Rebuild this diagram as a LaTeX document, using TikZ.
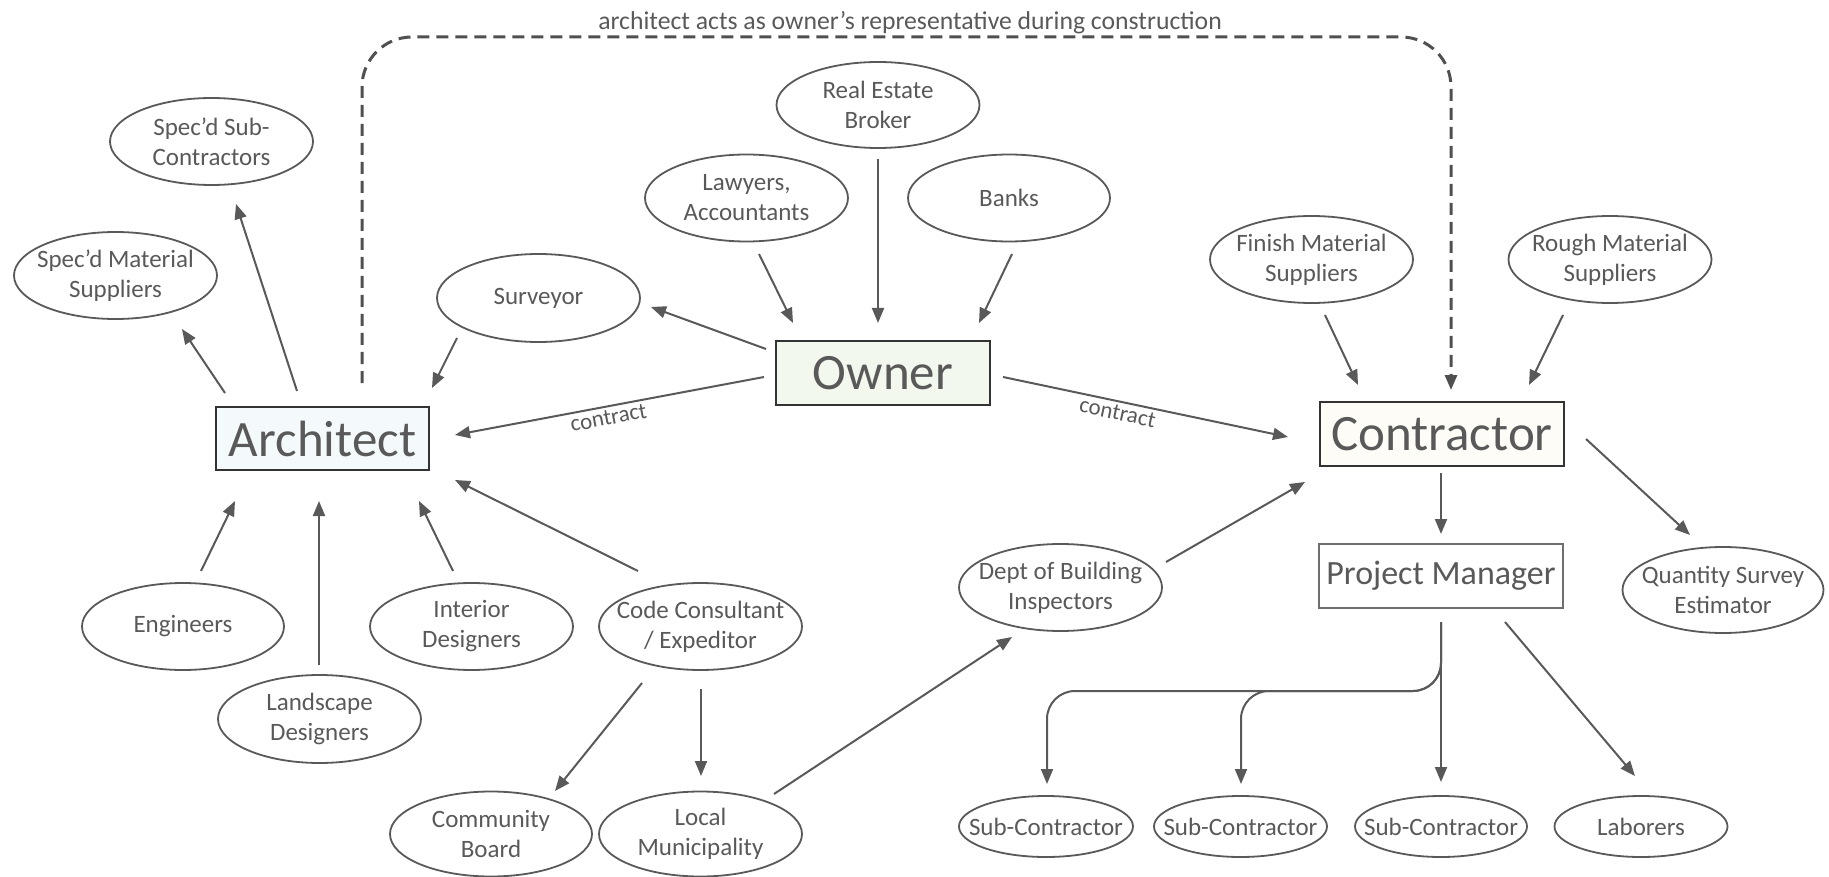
\documentclass[tikz,border=0pt]{standalone}
\usepackage{fontspec}
\setmainfont{Carlito}
\usetikzlibrary{shapes.geometric,arrows.meta,calc}
\definecolor{ink}{HTML}{595959}
\definecolor{dashink}{HTML}{505050}
\definecolor{boxline}{HTML}{333333}
\definecolor{pmline}{HTML}{6E6E6E}
\definecolor{ownerfill}{HTML}{F3F8EF}
\definecolor{archfill}{HTML}{F4F9FC}
\definecolor{contrfill}{HTML}{FDFCF7}
\tikzset{
  oval/.style={ellipse, draw=ink, line width=1.8pt, text=ink,
    inner xsep=-45pt, inner ysep=-10pt,
    minimum width=203pt, minimum height=87pt, align=center,
    font=\fontsize{25}{30}\selectfont},
  smalloval/.style={oval, minimum width=174pt, minimum height=61pt},
  bigbox/.style={rectangle, draw=boxline, line width=2.5pt, text=ink, inner sep=0pt,
    minimum width=213pt, minimum height=63pt, font=\fontsize{51}{60}\selectfont},
  pmbox/.style={rectangle, draw=pmline, line width=2pt, text=ink, inner sep=0pt,
    minimum width=244pt, minimum height=64pt, font=\fontsize{34}{40}\selectfont},
  arr/.style={draw=ink, line width=2pt, -{Triangle[length=15pt,width=12pt]}},
  dasharr/.style={arr, draw=dashink, line width=3pt, dash pattern=on 12pt off 7pt, rounded corners=50pt},
  forkarr/.style={arr, rounded corners=28pt},
  lbl/.style={text=ink, font=\fontsize{23}{28}\selectfont, sloped, below, inner sep=3pt},
  toplabel/.style={text=ink, font=\fontsize{25.7}{30}\selectfont, anchor=base, inner sep=0pt},
}
\begin{document}
\begin{tikzpicture}[x=1pt,y=-1pt]
\useasboundingbox (0,0) rectangle (1829,877);

% title
\node[toplabel] (title) at (910,30) {architect acts as owner’s representative during construction};

% main boxes
\node[bigbox, fill=ownerfill, minimum width=214pt, minimum height=64pt] (owner) at (883,373) {Owner};
\node[bigbox, fill=archfill] (arch) at (322.5,438.5) {Architect};
\node[bigbox, fill=contrfill, minimum width=244pt, minimum height=64pt] (contr) at (1442,434) {Contractor};
\node[pmbox] (pm) at (1441,576) {Project Manager};

% ellipses
\node[oval] (specsub) at (211.5,141.5) {Spec’d Sub-\\Contractors};
\node[oval] (specmat) at (115.5,275.5) {Spec’d Material\\Suppliers};
\node[oval, minimum height=88pt] (surveyor) at (538.5,298) {Surveyor};
\node[oval, minimum height=86pt] (realestate) at (878,105) {Real Estate\\Broker};
\node[oval] (lawyers) at (746.5,198) {Lawyers,\\Accountants};
\node[oval, minimum width=202pt] (banks) at (1009,198) {Banks};
\node[oval] (finish) at (1311.5,259.5) {Finish Material\\Suppliers};
\node[oval] (rough) at (1610,259.5) {Rough Material\\Suppliers};
\node[oval, minimum width=201pt, minimum height=86pt] (qse) at (1723,590) {Quantity Survey\\Estimator};
\node[oval] (dept) at (1060.5,587.5) {Dept of Building\\Inspectors};
\node[oval, minimum width=202pt] (engineers) at (183,626.5) {Engineers};
\node[oval, minimum height=88pt] (landscape) at (319.5,719) {Landscape\\Designers};
\node[oval] (interior) at (471.5,626.5) {Interior\\Designers};
\node[oval] (code) at (700.5,626.5) {Code Consultant\\/ Expeditor};
\node[oval, minimum width=202pt, minimum height=85pt] (community) at (491,834) {Community\\Board};
\node[oval, minimum height=85pt] (local) at (700.5,834) {Local\\Municipality};
\node[smalloval] (sub1) at (1046,826.5) {Sub-Contractor};
\node[smalloval, minimum width=173pt] (sub2) at (1240.5,826.5) {Sub-Contractor};
\node[smalloval, minimum width=172pt] (sub3) at (1441,826.5) {Sub-Contractor};
\node[smalloval, minimum width=173pt] (laborers) at (1641,826.5) {Laborers};

% connectors
\draw[arr] ($(arch)+(-97.5,-45.5)$) -- ($(specmat)+(66.5,53.5)$);
\draw[arr] ($(arch)+(-25.5,-47.5)$) -- ($(specsub)+(24.5,62.5)$);
\draw[arr] ($(surveyor)+(-81.5,40)$) -- ($(arch)+(109.5,-50.5)$);
\draw[arr] ($(owner)+(-117,-24)$) -- ($(surveyor)+(112.5,9)$);
\draw[arr] ($(lawyers)+(12.5,56)$) -- ($(owner)+(-90,-50)$);
\draw[arr] ($(realestate)+(0,54)$) -- ($(owner)+(-5,-50)$);
\draw[arr] ($(banks)+(3,56)$) -- ($(owner)+(96,-50)$);
\draw[arr] ($(owner)+(-119,4)$) -- node[lbl, pos=0.51] (c1) {contract} ($(arch)+(132.5,-3.5)$);
\draw[arr] ($(owner)+(120,4)$) -- node[lbl, pos=0.41] (c2) {contract} ($(contr)+(-154,3)$);
\draw[arr] ($(finish)+(13.5,55.5)$) -- ($(contr)+(-84,-49)$);
\draw[arr] ($(rough)+(-47,55.5)$) -- ($(contr)+(87,-49)$);
\draw[dasharr] ($(arch)+(39.5,-55.5)$) -- ++(0,-346) -| ($(contr)+(9,-44)$);
\draw[arr] ($(contr)+(144,5)$) -- ($(qse)+(-33,-55)$);
\draw[arr] ($(contr)+(-1,39)$) -- ($(pm)+(0,-42)$);
\draw[arr] ($(dept)+(105.5,-25.5)$) -- ($(contr)+(-137,48)$);
\draw[arr] ($(local)+(73.5,-40)$) -- ($(dept)+(-48.5,49.5)$);
\draw[arr] ($(engineers)+(18,-55.5)$) -- ($(arch)+(-87.5,62.5)$);
\draw[arr] ($(landscape)+(-0.5,-54)$) -- ($(arch)+(-3.5,62.5)$);
\draw[arr] ($(interior)+(-18.5,-55.5)$) -- ($(arch)+(96.5,62.5)$);
\draw[arr] ($(code)+(-62.5,-55.5)$) -- ($(arch)+(132.5,41.5)$);
\draw[arr] ($(code)+(-58.5,56.5)$) -- ($(community)+(64,-43)$);
\draw[arr] ($(code)+(0.5,62.5)$) -- ($(local)+(0.5,-58)$);
\draw[forkarr] ($(pm)+(0,46)$) -- ++(0,69) -| ($(sub1)+(1,-42.5)$);
\draw[forkarr] ($(pm)+(0,46)$) -- ++(0,69) -| ($(sub2)+(0.5,-42.5)$);
\draw[arr] ($(pm)+(0,46)$) -- ($(sub3)+(0,-44.5)$);
\draw[arr] ($(pm)+(64,46)$) -- ($(laborers)+(-6,-50.5)$);
\end{tikzpicture}
\end{document}
